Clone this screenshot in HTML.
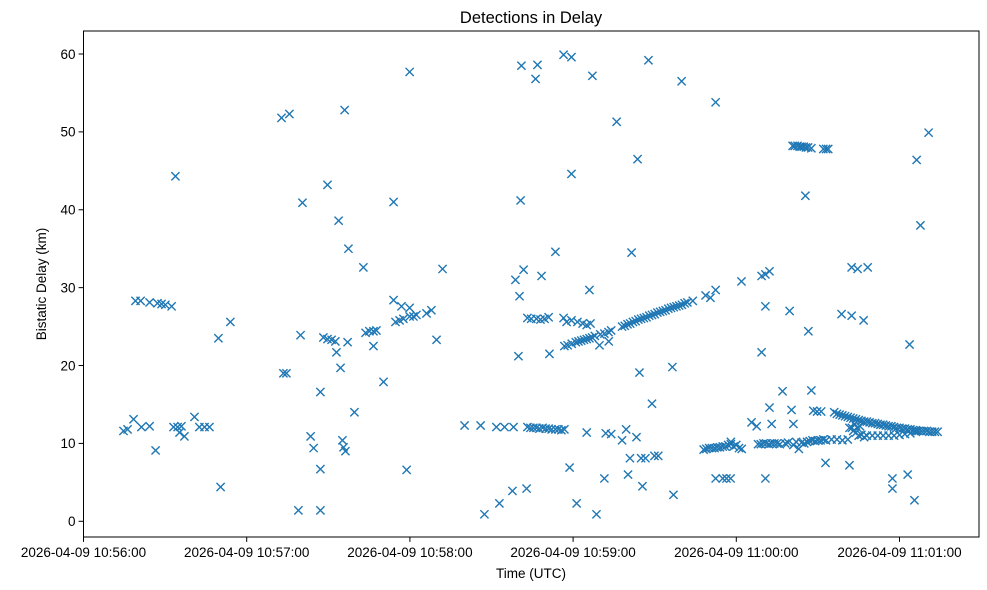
<!DOCTYPE html>
<html><head><meta charset="utf-8"><style>
html,body{margin:0;padding:0;background:#fff;}
svg{display:block;font-family:"Liberation Sans","DejaVu Sans",sans-serif;}
</style></head><body>
<svg id="chart" width="987" height="590" viewBox="0 0 987 590" xmlns="http://www.w3.org/2000/svg">
<rect x="0" y="0" width="987" height="590" fill="#fff"/>
<text x="531" y="23" text-anchor="middle" font-size="16.5" fill="#000">Detections in Delay</text>
<g id="marks"></g>
<g id="axes"></g>
<text x="531" y="578" text-anchor="middle" font-size="13.5">Time (UTC)</text>
<text x="0" y="0" transform="translate(46,284) rotate(-90)" text-anchor="middle" font-size="13.5">Bistatic Delay (km)</text>
</svg>
<script>
// seconds after 10:56:00
const times = [
14.7,16.2,18.4,21.3,24.3,26.5,19.1,21,24.3,27.2,28.7,30.1,32.4,33.8,33.1,34.6,36,35.3,37.1,40.8,42.6,44.5,46.3,49.6,54,50.4,
72.8,75.7,73.5,74.6,79,79.8,80.5,83.5,84.6,87.1,87.1,87.1,88.2,89.7,91.2,92.6,89.7,93,93.8,94.5,95.2,95.6,96.3,96,97.1,97.4,99.6,102.9,
103.7,105.1,106.6,107.7,106.6,110.3,114,114,114.7,116.2,117.6,116.9,118.8,119.9,119.9,119.9,121.3,122.4,126.1,127.9,129.8,132,
140.1,146,147.4,151.8,152.9,154.8,157.7,158.1,158.8,159.9,160.3,160.7,161.8,162.9,161,166.2,166.9,168.4,171.3,173.5,176.5,179.4,
163.2,164.6,166.5,168,169.5,171,
163.2,164.3,165.4,166.5,167.6,168.8,169.9,171,172.1,173.5,174.6,175.7,176.8,
176.5,177.6,179.4,181.6,183.5,185,186.4,
176.8,178,179.5,181,182,183,184,185,186,187,188,190,191.5,193,194,
178.7,179.4,181.3,185,186,187.1,188.6,189.7,191.5,192,194,193.1,196,198,199.5,200.2,200.9,201.5,203.3,203.7,204.4,205,206.6,205.5,207.7,209,209.9,211.3,216.9,216.5,219.9,
198,199,200,201,202,203,204,205,206,207,208,209,210,211,212,213,214,215,216,217,218,219,220,221,222,224,
228.7,230.5,232.4,232.4,232.4,
228,229,230,231,232,233,234,235,236,237,238,239,240,241,242,
235,236.4,237.9,238,
241.9,245.6,247.5,249.3,250.7,252.2,249.3,250.7,250.7,252.2,253,
248,249,250,251,252,253,254,255,256,258,259,261,262,263,264,265,266,267,268,269,270,271,272,273,275,277,279,281,
257,259.6,260.3,261,
260.7,261.5,262.5,263.3,264,264.8,265.6,266.4,267.6,272,273,273.8,
265.4,266.5,267.6,268.3,269.7,271.2,272.8,
278.7,281.6,282.4,284.6,288.3,282.4,286.8,
276,277,278,279,280,281,282,283,284,285,286,287,288,289,290,291,292,293,294,295,296,297,298,299,300,301,302,303,304,305,306,307,308,309,310,311,312,313,314,
283,284,285,286,287,288,290,292,294,296,298,300,302,304,306,
281.6,282.5,283.5,284.5,285.5,
297.4,297.4,303,303.7,305.5,306.3,307.7,310.7
];
const delays = [
11.6,11.8,13.1,12.1,12.2,9.1,28.3,28.3,28.1,28,27.9,27.8,27.6,44.3,12.1,12.1,12.2,11.4,10.9,13.4,12.1,12.1,12.1,23.5,25.6,4.4,
51.8,52.3,19,19,1.4,23.9,40.9,10.9,9.4,1.4,16.6,6.7,23.6,23.4,23.3,23.1,43.2,21.7,38.6,19.7,10.4,9.5,9,52.8,23,35,14,32.6,
24.2,24.4,24.4,24.5,22.5,17.9,41,28.4,25.6,25.8,26,27.6,6.6,57.7,27.4,26.3,26.3,26.5,26.7,27.1,23.3,32.4,
12.3,12.3,0.9,12.1,2.3,12.1,3.9,12.1,31,21.2,28.9,41.2,32.3,4.2,58.5,56.8,58.6,31.5,21.5,34.6,59.9,59.6,
26.1,26.0,26.0,25.9,26.0,26.2,
12.1,12.0,12.0,12.0,11.9,12.0,11.9,11.9,11.8,11.8,11.8,11.7,11.8,
26.1,25.6,25.8,25.6,25.4,25.2,25.4,
22.5,22.6,22.8,23.0,23.1,23.2,23.3,23.4,23.5,23.6,23.8,24.0,24.1,24.3,24.5,
6.9,44.6,2.3,11.4,29.7,57.2,0.9,22.6,5.5,11.3,11.2,23.1,51.3,10.4,11.8,6,8.1,34.5,10.8,46.5,19.1,8.1,8.1,4.5,59.2,15.1,8.4,8.4,3.4,19.8,56.5,
25.0,25.1,25.3,25.4,25.6,25.7,25.9,26.0,26.1,26.2,26.4,26.5,26.6,26.8,26.9,27.0,27.1,27.3,27.4,27.5,27.6,27.7,27.8,28.0,28.1,28.3,
29.0,28.7,29.7,53.8,5.5,
9.2,9.3,9.4,9.4,9.4,9.5,9.5,9.6,9.6,9.8,9.9,9.6,9.8,9.4,9.3,
5.5,5.5,5.5,10.2,
30.8,12.7,12.2,31.5,31.7,32.1,21.7,27.6,5.5,14.6,12.5,
9.9,9.9,10.0,10.0,9.9,10.0,10.0,10.0,9.9,10.0,10.1,9.8,10.2,9.3,10.1,10.0,10.2,10.3,10.4,10.3,10.4,10.4,10.5,10.4,10.5,10.5,10.4,10.5,
16.7,27,14.3,12.5,
48.2,48.2,48.2,48.1,48.1,48.1,48.0,48.0,47.9,47.8,47.8,47.8,
41.8,24.4,16.8,14.2,14.1,14.1,7.5,
26.6,7.2,32.6,32.4,32.6,26.4,25.8,
14.0,13.8,13.7,13.6,13.5,13.4,13.3,13.2,13.1,13.0,12.9,12.8,12.8,12.7,12.6,12.6,12.5,12.4,12.4,12.3,12.2,12.2,12.1,12.0,12.0,11.9,11.9,11.8,11.8,11.7,11.7,11.6,11.6,11.6,11.6,11.5,11.5,11.5,11.5,
11.6,11.4,11.0,11.1,10.8,11.0,11.0,11.0,11.0,11.0,11.0,11.1,11.2,11.3,11.5,
12.0,12.0,12.5,12.0,12.2,
5.5,4.2,6,22.7,2.7,46.4,38,49.9
];
const yTicks = [0,10,20,30,40,50,60];
const xTickSeconds = [0,60,120,180,240,300];
const xTickLabels = ["2026-04-09 10:56:00","2026-04-09 10:57:00","2026-04-09 10:58:00","2026-04-09 10:59:00","2026-04-09 11:00:00","2026-04-09 11:01:00"];

const L=83.5,R=979,T=31,B=537;
function xs(t){return 83.5+t*(163.2/60);}
function ys(v){return 521.3-v*(467.3/60);}
const NS="http://www.w3.org/2000/svg";
const marks=document.getElementById('marks');
const ax=document.getElementById('axes');
function mk(tag,attrs,parent){const e=document.createElementNS(NS,tag);for(const k in attrs)e.setAttribute(k,attrs[k]);parent.appendChild(e);return e;}
const h=4.1;
for(let i=0;i<times.length;i++){
  const cx=xs(times[i]),cy=ys(delays[i]);
  const p=mk('path',{d:`M${cx-h},${cy-h}L${cx+h},${cy+h}M${cx-h},${cy+h}L${cx+h},${cy-h}`,stroke:'#1f77b4','stroke-width':1.4,fill:'none'},marks);
  
  
}
const frame=mk('rect',{x:L,y:T,width:R-L,height:B-T,fill:'none',stroke:'#000','stroke-width':1},ax);


yTicks.forEach(v=>{
  const y=ys(v);
  mk('line',{x1:L-4.9,x2:L,y1:y,y2:y,stroke:'#000','stroke-width':1},ax);
  const t=mk('text',{x:L-8,y:y+4.8,'text-anchor':'end','font-size':13.5},ax);
  t.textContent=v;
  
  
});
xTickSeconds.forEach((s,i)=>{
  const x=xs(s);
  mk('line',{x1:x,x2:x,y1:B,y2:B+4.9,stroke:'#000','stroke-width':1},ax);
  const t=mk('text',{x:x,y:B+20,'text-anchor':'middle','font-size':13.5},ax);
  t.textContent=xTickLabels[i];
  
  
});
</script>
</body></html>
